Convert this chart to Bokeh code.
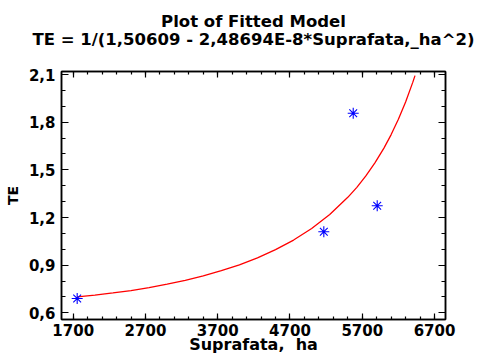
from bokeh.plotting import figure
from bokeh.models import Range1d, LinearAxis, FixedTicker, CustomJSTickFormatter, Title
from bokeh.embed import file_html
from bokeh.resources import INLINE

# observed data points
area_ha = [1755, 5168, 5575, 5907]
te_obs = [0.690, 1.110, 1.856, 1.274]

# fitted curve
fit_x = [1755, 2000, 2250, 2500, 2750, 3000, 3250, 3500, 3750, 4000, 4250,
         4500, 4750, 5000, 5250, 5500, 5625, 5750, 5875, 6000, 6100, 6200,
         6300, 6400, 6430]
fit_y = [0.700, 0.711, 0.725, 0.740, 0.759, 0.780, 0.804, 0.832, 0.865,
         0.902, 0.946, 0.998, 1.058, 1.131, 1.219, 1.327, 1.390, 1.462,
         1.544, 1.637, 1.722, 1.818, 1.927, 2.052, 2.093]

x_ticks = [1700, 2700, 3700, 4700, 5700, 6700]
x_minor = [1700 + 200 * i for i in range(26)]
y_ticks = [0.6, 0.9, 1.2, 1.5, 1.8, 2.1]
y_minor = [0.6 + 0.1 * i for i in range(16)]

title1 = "Plot of Fitted Model"
title2 = "TE = 1/(1,50609 - 2,48694E-8*Suprafata,_ha^2)"
x_label = "Suprafata,\u00a0 ha"
y_label = "TE"

FONT = "DejaVu Sans"

p = figure(width=485, height=356,
           x_range=Range1d(1538, 6852), y_range=Range1d(0.558, 2.119),
           output_backend="svg", toolbar_location=None,
           min_border_left=61, min_border_right=40,
           min_border_top=71, min_border_bottom=37,
           x_axis_label=x_label, y_axis_label=y_label)
p.background_fill_color = "white"
p.border_fill_color = "white"
p.outline_line_color = "black"
p.outline_line_width = 1.5
p.xgrid.grid_line_color = None
p.ygrid.grid_line_color = None

yfmt = CustomJSTickFormatter(code="return tick.toFixed(1).replace('.', ',');")
blank = CustomJSTickFormatter(code="return '';")


def style(ax, ticker, tin, tmin):
    ax.ticker = ticker
    ax.axis_line_color = "black"
    ax.axis_line_width = 1.5
    ax.major_tick_line_color = "black"
    ax.major_tick_line_width = 1.2
    ax.minor_tick_line_color = "black"
    ax.minor_tick_line_width = 1.2
    ax.major_tick_in = tin
    ax.major_tick_out = 0
    ax.minor_tick_in = tmin
    ax.minor_tick_out = 0
    ax.major_label_text_font = FONT
    ax.major_label_text_font_style = "bold"
    ax.major_label_text_font_size = "15px"
    ax.major_label_text_color = "black"
    ax.axis_label_text_font = FONT
    ax.axis_label_text_font_style = "bold"
    ax.axis_label_text_color = "black"


xa = p.xaxis[0]
style(xa, FixedTicker(ticks=x_ticks, minor_ticks=x_minor), 6, 3)
xa.major_label_standoff = 4
xa.axis_label_standoff = -4
xa.axis_label_text_font_size = "16px"

ya = p.yaxis[0]
style(ya, FixedTicker(ticks=y_ticks, minor_ticks=y_minor), 7, 4)
ya.formatter = yfmt
ya.major_label_standoff = 6
ya.axis_label_standoff = 5
ya.axis_label_text_font_size = "14px"

# mirrored frame ticks on top; its axis label carries the model equation line
top = LinearAxis(formatter=blank, major_label_standoff=0, axis_label=title2)
style(top, FixedTicker(ticks=x_ticks, minor_ticks=x_minor), 6, 3)
top.major_label_text_font_size = "1px"
top.axis_label_text_font_size = "16.5px"
top.axis_label_standoff = 23
p.add_layout(top, "above")

right = LinearAxis(formatter=blank, major_label_standoff=0)
style(right, FixedTicker(ticks=y_ticks, minor_ticks=y_minor), 7, 4)
right.major_label_text_font_size = "1px"
p.add_layout(right, "right")

p.add_layout(Title(text=title1, align="center", text_font=FONT,
                   text_font_style="bold", text_font_size="16.5px",
                   standoff=-8, text_color="black"), "above")

p.line(fit_x, fit_y, line_color="#ff0000", line_width=1.3)
p.scatter(area_ha, te_obs, marker="asterisk", size=11,
          line_color="#0000ff", line_width=1.1)

open("out.html", "w").write(file_html(p, INLINE))
